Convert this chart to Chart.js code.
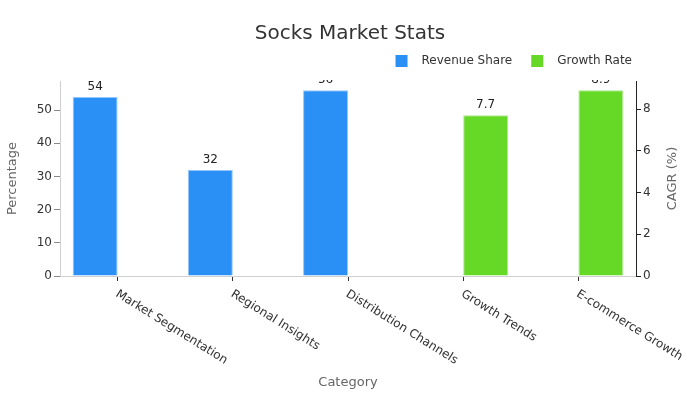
<!DOCTYPE html>
<html>
<head>
<meta charset="utf-8">
<script src="https://cdn.jsdelivr.net/npm/chart.js@4.4.1/dist/chart.umd.min.js"></script>
<style>
  html, body { margin: 0; padding: 0; background: #fff; }
  #wrap { width: 700px; height: 400px; }
</style>
</head>
<body>
<div id="wrap"><canvas id="c" width="700" height="400"></canvas></div>
<script>
const categories = ["Market Segmentation", "Regional Insights", "Distribution Channels", "Growth Trends", "E-commerce Growth"];
const revenueShare = [54, 32, 56, null, null];
const growthRate = [null, null, null, 7.7, 8.9];
const seriesNames = ["Revenue Share", "Growth Rate"];
const chartTitle = "Socks Market Stats";
const leftAxisTitle = "Percentage";
const rightAxisTitle = "CAGR (%)";
const xAxisTitle = "Category";

const FONT = "DejaVu Sans";
const BLUE = "#2b90f5";
const GREEN = "#66d926";

Chart.defaults.font.family = FONT;

const PLOT = { left: 60, right: 636, top: 80, bottom: 276 };

const customLegend = {
  id: 'customLegend',
  afterDraw(chart) {
    const ctx = chart.ctx;
    ctx.save();
    ctx.font = `12px "${FONT}"`;
    ctx.textBaseline = 'middle';
    ctx.textAlign = 'left';
    const y = 61;
    const items = chart.data.datasets.map(d => ({ label: d.label, color: d.backgroundColor }));
    const boxW = 12, gapBT = 14, gapItems = 19;
    const widths = items.map(it => boxW + gapBT + ctx.measureText(it.label).width);
    const total = widths.reduce((a, b) => a + b, 0) + gapItems * (items.length - 1);
    let x = 632 - total;
    items.forEach((it, i) => {
      ctx.fillStyle = it.color;
      ctx.fillRect(x, y - 6, boxW, boxW);
      ctx.fillStyle = '#333';
      ctx.fillText(it.label, x + boxW + gapBT, y);
      x += widths[i] + gapItems;
    });
    ctx.restore();
  }
};

const rightTitle = {
  id: 'rightTitle',
  afterDraw(chart) {
    const ctx = chart.ctx;
    const area = chart.chartArea;
    ctx.save();
    ctx.font = `13px "${FONT}"`;
    ctx.fillStyle = '#666';
    ctx.textAlign = 'center';
    ctx.textBaseline = 'middle';
    ctx.translate(673, (area.top + area.bottom) / 2);
    ctx.rotate(-Math.PI / 2);
    ctx.fillText(rightAxisTitle, 0, 0);
    ctx.restore();
  }
};

const dataLabels = {
  id: 'dataLabels',
  afterDatasetsDraw(chart) {
    const ctx = chart.ctx;
    const area = chart.chartArea;
    ctx.save();
    ctx.beginPath();
    ctx.rect(0, area.top - 1, chart.width, chart.height);
    ctx.clip();
    ctx.font = `12px "${FONT}"`;
    ctx.fillStyle = '#222';
    ctx.textAlign = 'center';
    ctx.textBaseline = 'bottom';
    chart.data.datasets.forEach((ds, di) => {
      const meta = chart.getDatasetMeta(di);
      meta.data.forEach((bar, i) => {
        const v = ds.data[i];
        if (v === null || v === undefined) return;
        ctx.fillText(String(v), bar.x, bar.y - 4);
      });
    });
    ctx.restore();
  }
};

const xLabels = {
  id: 'xLabels',
  afterDraw(chart) {
    const ctx = chart.ctx;
    const xs = chart.scales.x;
    ctx.save();
    ctx.font = `12px "${FONT}"`;
    ctx.fillStyle = '#333';
    ctx.textAlign = 'left';
    ctx.textBaseline = 'middle';
    categories.forEach((lab, i) => {
      const x = xs.getPixelForTick(i);
      ctx.save();
      ctx.translate(x - 1, chart.chartArea.bottom + 17);
      ctx.rotate(32 * Math.PI / 180);
      ctx.fillText(lab, 0, 0);
      ctx.restore();
    });
    ctx.restore();
  }
};

const leftMax = Math.max(...revenueShare.filter(v => v !== null)) * 1.05;
const rightMax = Math.max(...growthRate.filter(v => v !== null)) * 1.05;

new Chart(document.getElementById('c'), {
  type: 'bar',
  data: {
    labels: categories,
    datasets: [
      {
        label: seriesNames[0],
        data: revenueShare,
        backgroundColor: BLUE,
        borderColor: '#93c6fa',
        borderWidth: 1,
        yAxisID: 'y',
        categoryPercentage: 0.78,
        barPercentage: 1.0
      },
      {
        label: seriesNames[1],
        data: growthRate,
        backgroundColor: GREEN,
        borderColor: '#ace98d',
        borderWidth: 1,
        yAxisID: 'y1',
        categoryPercentage: 0.78,
        barPercentage: 1.0
      }
    ]
  },
  options: {
    responsive: false,
    animation: false,
    layout: { padding: { left: 0, right: 0, top: 0, bottom: 0 } },
    plugins: {
      title: {
        display: true,
        text: chartTitle,
        color: '#333',
        font: { family: FONT, size: 20, weight: 'normal' },
        padding: { top: 22, bottom: 35 }
      },
      legend: { display: false },
      tooltip: { enabled: false }
    },
    scales: {
      x: {
        grid: { display: true, offset: false, drawOnChartArea: false, drawTicks: true, tickLength: 5, tickColor: '#333' },
        border: { display: true, color: '#d0d0d0' },
        ticks: { display: false },
        title: { display: true, text: xAxisTitle, color: '#666', font: { family: FONT, size: 13 }, padding: { bottom: 10 } },
        afterFit(s) { s.height = 400 - PLOT.bottom; }
      },
      y: {
        position: 'left',
        min: 0,
        max: leftMax,
        grid: { display: true, drawOnChartArea: false, tickLength: 6, tickColor: '#888' },
        border: { display: true, color: '#d0d0d0' },
        ticks: { stepSize: 10, includeBounds: false, padding: 2, color: '#333', font: { family: FONT, size: 12 } },
        title: { display: true, text: leftAxisTitle, color: '#666', font: { family: FONT, size: 13 }, padding: { top: 5 } },
        afterBuildTicks(s) { s.ticks = s.ticks.filter(t => Math.abs(t.value / 10 - Math.round(t.value / 10)) < 1e-9); },
        afterFit(s) { s.width = PLOT.left; }
      },
      y1: {
        position: 'right',
        min: 0,
        max: rightMax,
        grid: { display: true, drawOnChartArea: false, tickLength: 5, tickColor: '#222' },
        border: { display: true, color: '#222' },
        ticks: { stepSize: 2, includeBounds: false, padding: 2, color: '#333', font: { family: FONT, size: 12 } },
        title: { display: false },
        afterBuildTicks(s) { s.ticks = s.ticks.filter(t => Math.abs(t.value / 2 - Math.round(t.value / 2)) < 1e-9); },
        afterFit(s) { s.width = 700 - PLOT.right; }
      }
    }
  },
  plugins: [customLegend, rightTitle, dataLabels, xLabels]
});
</script>
</body>
</html>
